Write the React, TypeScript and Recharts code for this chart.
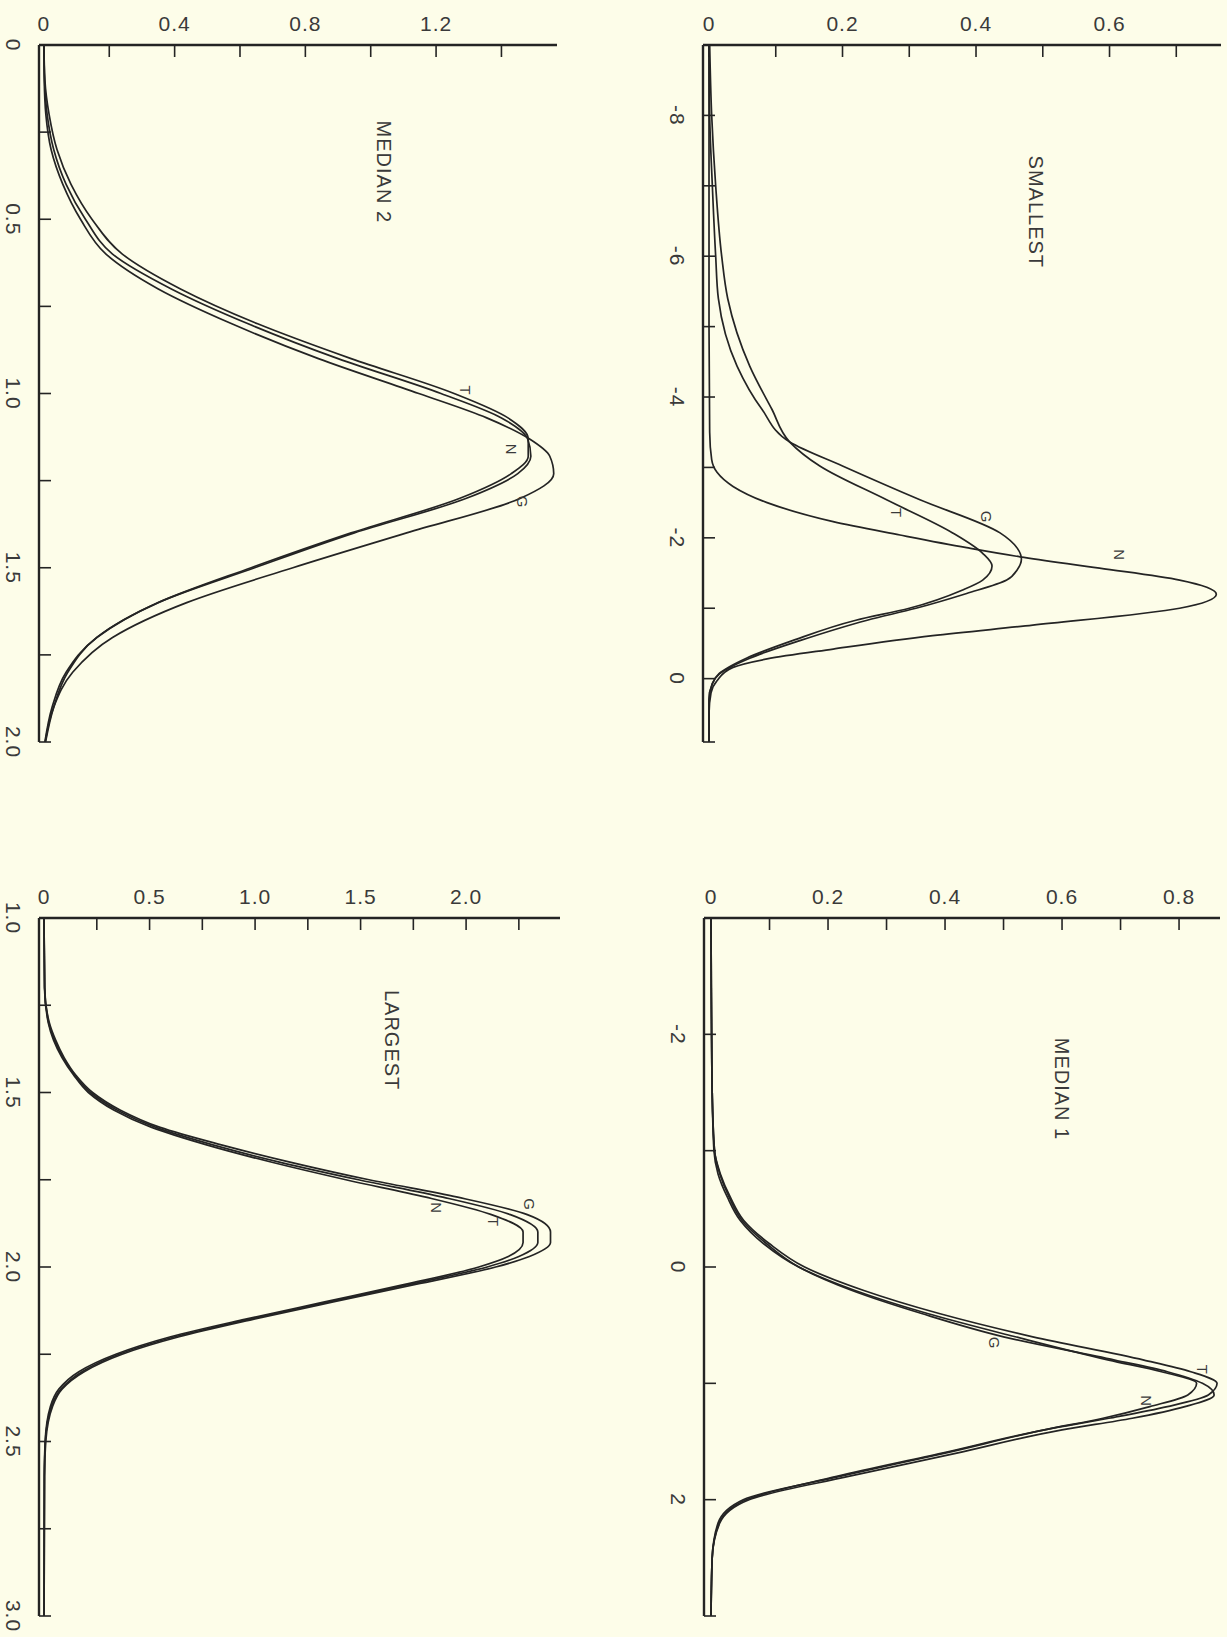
import React from 'react';
import { LineChart, Line, XAxis, YAxis, ReferenceDot } from 'recharts';

const FONT = '"Liberation Sans", Arial, Helvetica, sans-serif';
const INK = '#242424';
const TEXT = '#3a3a3a';
const PAPER = '#fdfde9';

// ---------------- SMALLEST ----------------
const smallestNX = [-9, -5, -3.5, -3.11, -2.93, -2.73, -2.5, -2.23, -2.04, -1.86, -1.73, -1.57, -1.4, -1.2, -1.0, -0.76, -0.61, -0.42, -0.28, -0.16, 0.03, 0.2, 0.5, 0.9];
const smallestND = [0, 0, 0.001, 0.004, 0.012, 0.036, 0.087, 0.186, 0.286, 0.386, 0.466, 0.585, 0.705, 0.76, 0.705, 0.485, 0.335, 0.186, 0.087, 0.036, 0.012, 0.003, 0, 0];
const smallestGX = [-9, -8, -7, -6, -5.4, -4.44, -3.83, -3.36, -3.02, -2.54, -2.07, -1.85, -1.7, -1.55, -1.4, -1.21, -1.0, -0.83, -0.54, -0.29, -0.07, 0.07, 0.3, 0.9];
const smallestGD = [0, 0.001, 0.005, 0.01, 0.014, 0.042, 0.079, 0.121, 0.2, 0.316, 0.436, 0.462, 0.468, 0.462, 0.446, 0.386, 0.31, 0.237, 0.136, 0.061, 0.016, 0.005, 0, 0];
const smallestTX = [-9, -8, -7, -6, -5.4, -4.44, -3.83, -3.36, -3.02, -2.54, -2.07, -1.78, -1.6, -1.4, -1.26, -1.0, -0.83, -0.54, -0.29, -0.07, 0.07, 0.3, 0.9];
const smallestTD = [0.001, 0.004, 0.01, 0.019, 0.028, 0.061, 0.094, 0.121, 0.166, 0.266, 0.365, 0.41, 0.424, 0.41, 0.38, 0.3, 0.22, 0.125, 0.056, 0.015, 0.005, 0, 0];
const smallestDTicks = [0, 0.1, 0.2, 0.3, 0.4, 0.5, 0.6, 0.7];
const smallestDLabels = ['0', '', '0.2', '', '0.4', '', '0.6', ''];
const smallestXTicks = [-9, -8, -7, -6, -5, -4, -3, -2, -1, 0, 0.9];
const smallestXLabels = ['', '-8', '', '-6', '', '-4', '', '-2', '', '0', ''];

// ---------------- MEDIAN 1 ----------------
const median1X = [-3, -2, -1.5, -1.0, -0.8, -0.6, -0.4, -0.2, 0, 0.2, 0.4, 0.6, 0.8, 0.9, 1.0, 1.1, 1.2, 1.3, 1.4, 1.6, 1.8, 2.0, 2.2, 2.5, 3];
const median1N = [0, 0.001, 0.002, 0.005, 0.012, 0.028, 0.05, 0.09, 0.15, 0.245, 0.37, 0.52, 0.68, 0.77, 0.83, 0.815, 0.75, 0.67, 0.57, 0.4, 0.22, 0.055, 0.012, 0.002, 0];
const median1T = [0, 0.001, 0.002, 0.006, 0.016, 0.033, 0.056, 0.1, 0.16, 0.26, 0.39, 0.55, 0.74, 0.82, 0.865, 0.85, 0.78, 0.68, 0.57, 0.395, 0.215, 0.06, 0.014, 0.002, 0];
const median1G = [0, 0.001, 0.002, 0.006, 0.015, 0.031, 0.053, 0.095, 0.15, 0.24, 0.36, 0.5, 0.69, 0.78, 0.84, 0.86, 0.81, 0.72, 0.6, 0.42, 0.235, 0.065, 0.015, 0.002, 0];
const median1DTicks = [0, 0.1, 0.2, 0.3, 0.4, 0.5, 0.6, 0.7, 0.8];
const median1DLabels = ['0', '', '0.2', '', '0.4', '', '0.6', '', '0.8'];
const median1XTicks = [-3, -2, -1, 0, 1, 2, 3];
const median1XLabels = ['', '-2', '', '0', '', '2', ''];

// ---------------- MEDIAN 2 ----------------
const median2X = [0, 0.1, 0.2, 0.3, 0.4, 0.5, 0.6, 0.7, 0.8, 0.9, 1.0, 1.07, 1.13, 1.18, 1.23, 1.3, 1.4, 1.5, 1.6, 1.7, 1.8, 1.9, 2.0];
const median2N = [0, 0.002, 0.01, 0.03, 0.068, 0.127, 0.21, 0.39, 0.625, 0.9, 1.215, 1.4, 1.48, 1.49, 1.45, 1.295, 0.95, 0.645, 0.35, 0.162, 0.068, 0.025, 0.003];
const median2T = [0, 0.003, 0.016, 0.04, 0.083, 0.147, 0.24, 0.418, 0.654, 0.94, 1.255, 1.42, 1.482, 1.482, 1.43, 1.275, 0.94, 0.634, 0.35, 0.162, 0.073, 0.03, 0.005];
const median2G = [0, 0.001, 0.006, 0.022, 0.058, 0.112, 0.19, 0.35, 0.575, 0.84, 1.147, 1.355, 1.485, 1.548, 1.56, 1.46, 1.11, 0.762, 0.437, 0.21, 0.088, 0.03, 0.004];
const median2DTicks = [0, 0.2, 0.4, 0.6, 0.8, 1.0, 1.2, 1.4];
const median2DLabels = ['0', '', '0.4', '', '0.8', '', '1.2', ''];
const median2XTicks = [0, 0.25, 0.5, 0.75, 1.0, 1.25, 1.5, 1.75, 2.0];
const median2XLabels = ['0', '', '0.5', '', '1.0', '', '1.5', '', '2.0'];

// ---------------- LARGEST ----------------
const largestX = [1.0, 1.2, 1.3, 1.35, 1.4, 1.45, 1.5, 1.55, 1.6, 1.65, 1.7, 1.75, 1.8, 1.85, 1.9, 1.93, 1.97, 2.0, 2.05, 2.1, 2.15, 2.2, 2.25, 2.3, 2.35, 2.4, 2.5, 2.6, 3.0];
const largestG = [0, 0.003, 0.025, 0.055, 0.095, 0.15, 0.23, 0.36, 0.55, 0.84, 1.17, 1.54, 1.96, 2.29, 2.4, 2.4, 2.3, 2.14, 1.76, 1.37, 0.99, 0.64, 0.37, 0.19, 0.085, 0.04, 0.008, 0.002, 0];
const largestN = [0, 0.002, 0.02, 0.045, 0.085, 0.14, 0.21, 0.33, 0.51, 0.77, 1.08, 1.43, 1.81, 2.12, 2.27, 2.27, 2.2, 2.06, 1.71, 1.33, 0.95, 0.6, 0.34, 0.165, 0.07, 0.03, 0.005, 0.001, 0];
const largestT = [0, 0.003, 0.022, 0.05, 0.09, 0.145, 0.22, 0.345, 0.53, 0.8, 1.12, 1.49, 1.89, 2.21, 2.34, 2.34, 2.25, 2.1, 1.73, 1.35, 0.97, 0.62, 0.355, 0.18, 0.08, 0.035, 0.006, 0.002, 0];
const largestDTicks = [0, 0.25, 0.5, 0.75, 1.0, 1.25, 1.5, 1.75, 2.0, 2.25];
const largestDLabels = ['0', '', '0.5', '', '1.0', '', '1.5', '', '2.0', ''];
const largestXTicks = [1.0, 1.25, 1.5, 1.75, 2.0, 2.25, 2.5, 2.75, 3.0];
const largestXLabels = ['1.0', '', '1.5', '', '2.0', '', '2.5', '', '3.0'];

type Series = { xs: number[]; ds: number[] };
type Tag = { text: string; d: number; x: number; size: number };
type PanelCfg = {
  left: number; top: number; plotW: number; plotH: number;
  dDomain: [number, number]; xDomain: [number, number];
  dTicks: number[]; dLabels: string[]; xTicks: number[]; xLabels: string[];
  series: Series[]; tags: Tag[];
};

const toRows = (xs: number[], ds: number[]) => xs.map((x, i) => ({ x, d: ds[i] }));
const labelOf = (ticks: number[], labels: string[], v: number) => {
  const i = ticks.findIndex((t) => Math.abs(t - v) < 1e-9);
  return i >= 0 ? labels[i] : '';
};

const RotLabel = (props: any) => {
  const vb = props.viewBox || {};
  const cx = (vb.x || 0) + (vb.width || 0) / 2;
  const cy = (vb.y || 0) + (vb.height || 0) / 2;
  return (
    <text x={cx} y={cy} transform={`rotate(90 ${cx} ${cy})`} textAnchor="middle" dominantBaseline="central"
      fontSize={props.size} letterSpacing={props.size > 16 ? 1 : 0} fill={TEXT} fontFamily={FONT}>{props.text}</text>
  );
};

const OL = 42, OT = 45, OR = 8, OB = 30;
const TICK_FONT = 21;

function Panel({ cfg }: { cfg: PanelCfg }) {
  const width = OL + cfg.plotW + OR;
  const height = OT + cfg.plotH + OB;
  const topTick = (p: any) => {
    const lab = labelOf(cfg.dTicks, cfg.dLabels, p.payload.value);
    return (
      <g>
        <line x1={p.x} y1={p.y} x2={p.x} y2={p.y + 12} stroke={INK} strokeWidth={1.6} />
        {lab ? <text x={p.x} y={p.y - 22} textAnchor="middle" dominantBaseline="central" fontSize={TICK_FONT} letterSpacing={1} fill={TEXT} fontFamily={FONT}>{lab}</text> : null}
      </g>
    );
  };
  const leftTick = (p: any) => {
    const lab = labelOf(cfg.xTicks, cfg.xLabels, p.payload.value);
    const lx = p.x - 26;
    return (
      <g>
        <line x1={p.x} y1={p.y} x2={p.x + 12} y2={p.y} stroke={INK} strokeWidth={1.6} />
        {lab ? <text x={lx} y={p.y} transform={`rotate(90 ${lx} ${p.y})`} textAnchor="middle" dominantBaseline="central" fontSize={TICK_FONT} letterSpacing={1} fill={TEXT} fontFamily={FONT}>{lab}</text> : null}
      </g>
    );
  };
  return (
    <div style={{ position: 'absolute', left: cfg.left - OL, top: cfg.top - OT }}>
      <LineChart layout="vertical" width={width} height={height} margin={{ top: OT - 30, left: 0, right: OR, bottom: OB }}>
        <XAxis type="number" orientation="top" height={30} domain={cfg.dDomain} ticks={cfg.dTicks} interval={0}
          allowDataOverflow tickSize={0} tickMargin={0} tickLine={false}
          axisLine={{ stroke: INK, strokeWidth: 2.4 }} tick={topTick} />
        <YAxis type="number" dataKey="x" orientation="left" width={OL} domain={cfg.xDomain} ticks={cfg.xTicks} interval={0}
          allowDataOverflow tickSize={0} tickMargin={0} tickLine={false}
          axisLine={{ stroke: INK, strokeWidth: 2.4 }} tick={leftTick} />
        {cfg.series.map((s, i) => (
          <Line key={i} data={toRows(s.xs, s.ds)} dataKey="d" type="monotone" stroke={INK} strokeWidth={1.7}
            dot={false} activeDot={false} isAnimationActive={false} />
        ))}
        {cfg.tags.map((t, i) => (
          <ReferenceDot key={'t' + i} x={t.d} y={t.x} r={0} fill="none" stroke="none" ifOverflow="visible"
            label={<RotLabel text={t.text} size={t.size} />} />
        ))}
      </LineChart>
    </div>
  );
}

const panels: PanelCfg[] = [
  {
    left: 703, top: 45, plotW: 518, plotH: 697,
    dDomain: [-0.009, 0.767], xDomain: [-9, 0.9],
    dTicks: smallestDTicks, dLabels: smallestDLabels, xTicks: smallestXTicks, xLabels: smallestXLabels,
    series: [{ xs: smallestNX, ds: smallestND }, { xs: smallestGX, ds: smallestGD }, { xs: smallestTX, ds: smallestTD }],
    tags: [
      { text: 'SMALLEST', d: 0.49, x: -6.63, size: 20 },
      { text: 'T', d: 0.281, x: -2.36, size: 15 },
      { text: 'G', d: 0.416, x: -2.3, size: 15 },
      { text: 'N', d: 0.615, x: -1.76, size: 15 },
    ],
  },
  {
    left: 39, top: 45, plotW: 518, plotH: 697,
    dDomain: [-0.015, 1.57], xDomain: [0, 2],
    dTicks: median2DTicks, dLabels: median2DLabels, xTicks: median2XTicks, xLabels: median2XLabels,
    series: [{ xs: median2X, ds: median2N }, { xs: median2X, ds: median2T }, { xs: median2X, ds: median2G }],
    tags: [
      { text: 'MEDIAN 2', d: 1.04, x: 0.364, size: 20 },
      { text: 'T', d: 1.29, x: 0.99, size: 15 },
      { text: 'N', d: 1.43, x: 1.16, size: 15 },
      { text: 'G', d: 1.465, x: 1.31, size: 15 },
    ],
  },
  {
    left: 704, top: 918, plotW: 516, plotH: 698,
    dDomain: [-0.012, 0.87], xDomain: [-3, 3],
    dTicks: median1DTicks, dLabels: median1DLabels, xTicks: median1XTicks, xLabels: median1XLabels,
    series: [{ xs: median1X, ds: median1N }, { xs: median1X, ds: median1T }, { xs: median1X, ds: median1G }],
    tags: [
      { text: 'MEDIAN 1', d: 0.6, x: -1.53, size: 20 },
      { text: 'G', d: 0.485, x: 0.65, size: 15 },
      { text: 'N', d: 0.745, x: 1.15, size: 15 },
      { text: 'T', d: 0.84, x: 0.88, size: 15 },
    ],
  },
  {
    left: 39, top: 918, plotW: 521, plotH: 698,
    dDomain: [-0.024, 2.445], xDomain: [1, 3],
    dTicks: largestDTicks, dLabels: largestDLabels, xTicks: largestXTicks, xLabels: largestXLabels,
    series: [{ xs: largestX, ds: largestN }, { xs: largestX, ds: largestT }, { xs: largestX, ds: largestG }],
    tags: [
      { text: 'LARGEST', d: 1.65, x: 1.35, size: 20 },
      { text: 'N', d: 1.86, x: 1.83, size: 15 },
      { text: 'T', d: 2.13, x: 1.87, size: 15 },
      { text: 'G', d: 2.3, x: 1.82, size: 15 },
    ],
  },
];

export default function App() {
  return (
    <div style={{ position: 'absolute', left: 0, top: 0, width: 1227, height: 1637, background: PAPER, overflow: 'hidden' }}>
      {panels.map((p, i) => <Panel key={i} cfg={p} />)}
    </div>
  );
}
